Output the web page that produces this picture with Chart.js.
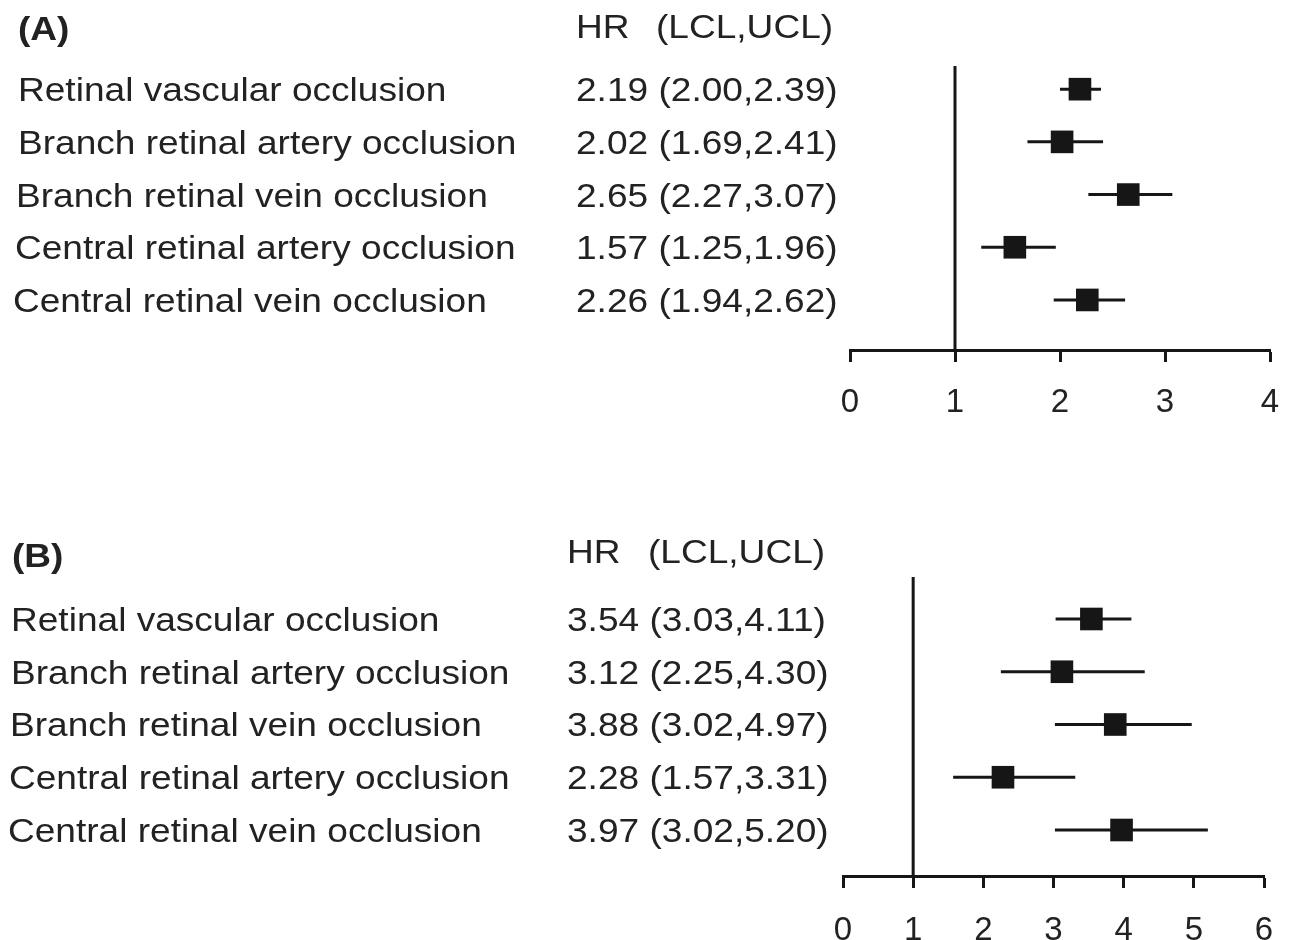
<!DOCTYPE html>
<html>
<head>
<meta charset="utf-8">
<script src="https://cdn.jsdelivr.net/npm/chart.js@4.4.1/dist/chart.umd.min.js"></script>
<style>
  body { margin: 0; background: #fff; }
  .panel { position: absolute; left: 0; width: 1289px; height: 470px; }
</style>
</head>
<body>
<div class="panel" style="top:0"><canvas id="chartA" width="1289" height="470"></canvas></div>
<div class="panel" style="top:470px"><canvas id="chartB" width="1289" height="470"></canvas></div>
<script>
const outcomes = [
    'Retinal vascular occlusion',
    'Branch retinal artery occlusion',
    'Branch retinal vein occlusion',
    'Central retinal artery occlusion',
    'Central retinal vein occlusion'
];

// panel A
const hrA  = [2.19, 2.02, 2.65, 1.57, 2.26];
const lclA = [2.00, 1.69, 2.27, 1.25, 1.94];
const uclA = [2.39, 2.41, 3.07, 1.96, 2.62];
const ticksA = [0, 1, 2, 3, 4];

// panel B
const hrB  = [3.54, 3.12, 3.88, 2.28, 3.97];
const lclB = [3.03, 2.25, 3.02, 1.57, 3.02];
const uclB = [4.11, 4.30, 4.97, 3.31, 5.20];
const ticksB = [0, 1, 2, 3, 4, 5, 6];

const refLine = 1;

const FONT = '"Liberation Sans", Arial, sans-serif';
const INK = '#161616';
const TEXT = '#222';
const STRETCH = 1.09;

function fmt(v) {
    return v.toFixed(2);
}

function textPlugin(title, hr, lcl, ucl, pos) {
    return {
        id: 'forestText',
        afterDraw(chart) {
            const ctx = chart.ctx;
            const yScale = chart.scales.y;
            const put = (text, x, y, weight) => {
                ctx.save();
                ctx.font = weight + ' 34px ' + FONT;
                ctx.fillStyle = TEXT;
                ctx.textBaseline = 'alphabetic';
                ctx.translate(x, y);
                ctx.scale(STRETCH, 1);
                ctx.fillText(text, 0, 0);
                ctx.restore();
            };
            put(title, pos.titleX, pos.titleY, 'bold');
            put('HR', pos.valueX, pos.headY, 'normal');
            put('(LCL,UCL)', pos.headX2, pos.headY, 'normal');
            outcomes.forEach((name, i) => {
                const y = yScale.getPixelForValue(i + 1) + 12;
                put(name, pos.labelX[i], y, 'normal');
                put(`${fmt(hr[i])} (${fmt(lcl[i])},${fmt(ucl[i])})`, pos.valueX, y, 'normal');
            });
        }
    };
}

function makeForest(id, title, hr, lcl, ucl, ticks, pos) {
    const ctx = document.getElementById(id).getContext('2d');

    const datasets = [{
        data: hr.map((v, i) => ({ x: v, y: i + 1 })),
        pointStyle: 'rect',
        pointRadius: 16,
        backgroundColor: INK,
        borderWidth: 0
    }];

    hr.forEach((v, i) => {
        datasets.push({
            data: [{ x: lcl[i], y: i + 1 }, { x: ucl[i], y: i + 1 }],
            showLine: true,
            pointRadius: 0,
            borderColor: INK,
            borderWidth: 3,
            borderCapStyle: 'butt'
        });
    });

    datasets.push({
        data: [{ x: refLine, y: pos.yMin }, { x: refLine, y: pos.yMax }],
        showLine: true,
        pointRadius: 0,
        borderColor: INK,
        borderWidth: 3,
        clip: false
    });

    return new Chart(ctx, {
        type: 'scatter',
        data: { datasets },
        options: {
            responsive: false,
            animation: false,
            events: [],
            layout: { padding: { left: pos.left, right: pos.right, top: pos.top, bottom: 0 } },
            plugins: {
                legend: { display: false },
                tooltip: { enabled: false }
            },
            scales: {
                x: {
                    type: 'linear',
                    position: 'bottom',
                    min: ticks[0],
                    max: ticks[ticks.length - 1],
                    afterBuildTicks: s => { s.ticks = ticks.map(v => ({ value: v })); },
                    afterFit: s => {
                        s.height = pos.axisH;
                        s.paddingLeft = 0;
                        s.paddingRight = 0;
                    },
                    grid: {
                        drawOnChartArea: false,
                        drawTicks: true,
                        tickLength: 12,
                        tickWidth: 3,
                        tickColor: INK
                    },
                    border: { display: true, width: 3, color: INK },
                    ticks: {
                        color: TEXT,
                        font: { size: 33, family: FONT },
                        padding: pos.tickPad,
                        maxRotation: 0,
                        autoSkip: false
                    }
                },
                y: {
                    type: 'linear',
                    reverse: true,
                    min: pos.yMin,
                    max: pos.yMax,
                    display: false
                }
            }
        },
        plugins: [textPlugin(title, hr, lcl, ucl, pos)]
    });
}

makeForest('chartA', '(A)', hrA, lclA, uclA, ticksA, {
    left: 850, right: 19, top: 66, axisH: 120, tickPad: 21,
    yMin: 0.56, yMax: 5.95,
    titleX: 18, titleY: 40, headY: 38, headX2: 656, valueX: 576,
    labelX: [18, 18, 16, 15, 13]
});

makeForest('chartB', '(B)', hrB, lclB, uclB, ticksB, {
    left: 843, right: 25, top: 107, axisH: 64, tickPad: 23,
    yMin: 0.204, yMax: 5.872,
    titleX: 12, titleY: 97, headY: 93, headX2: 648, valueX: 567,
    labelX: [11, 11, 10, 9, 8]
});
</script>
</body>
</html>
